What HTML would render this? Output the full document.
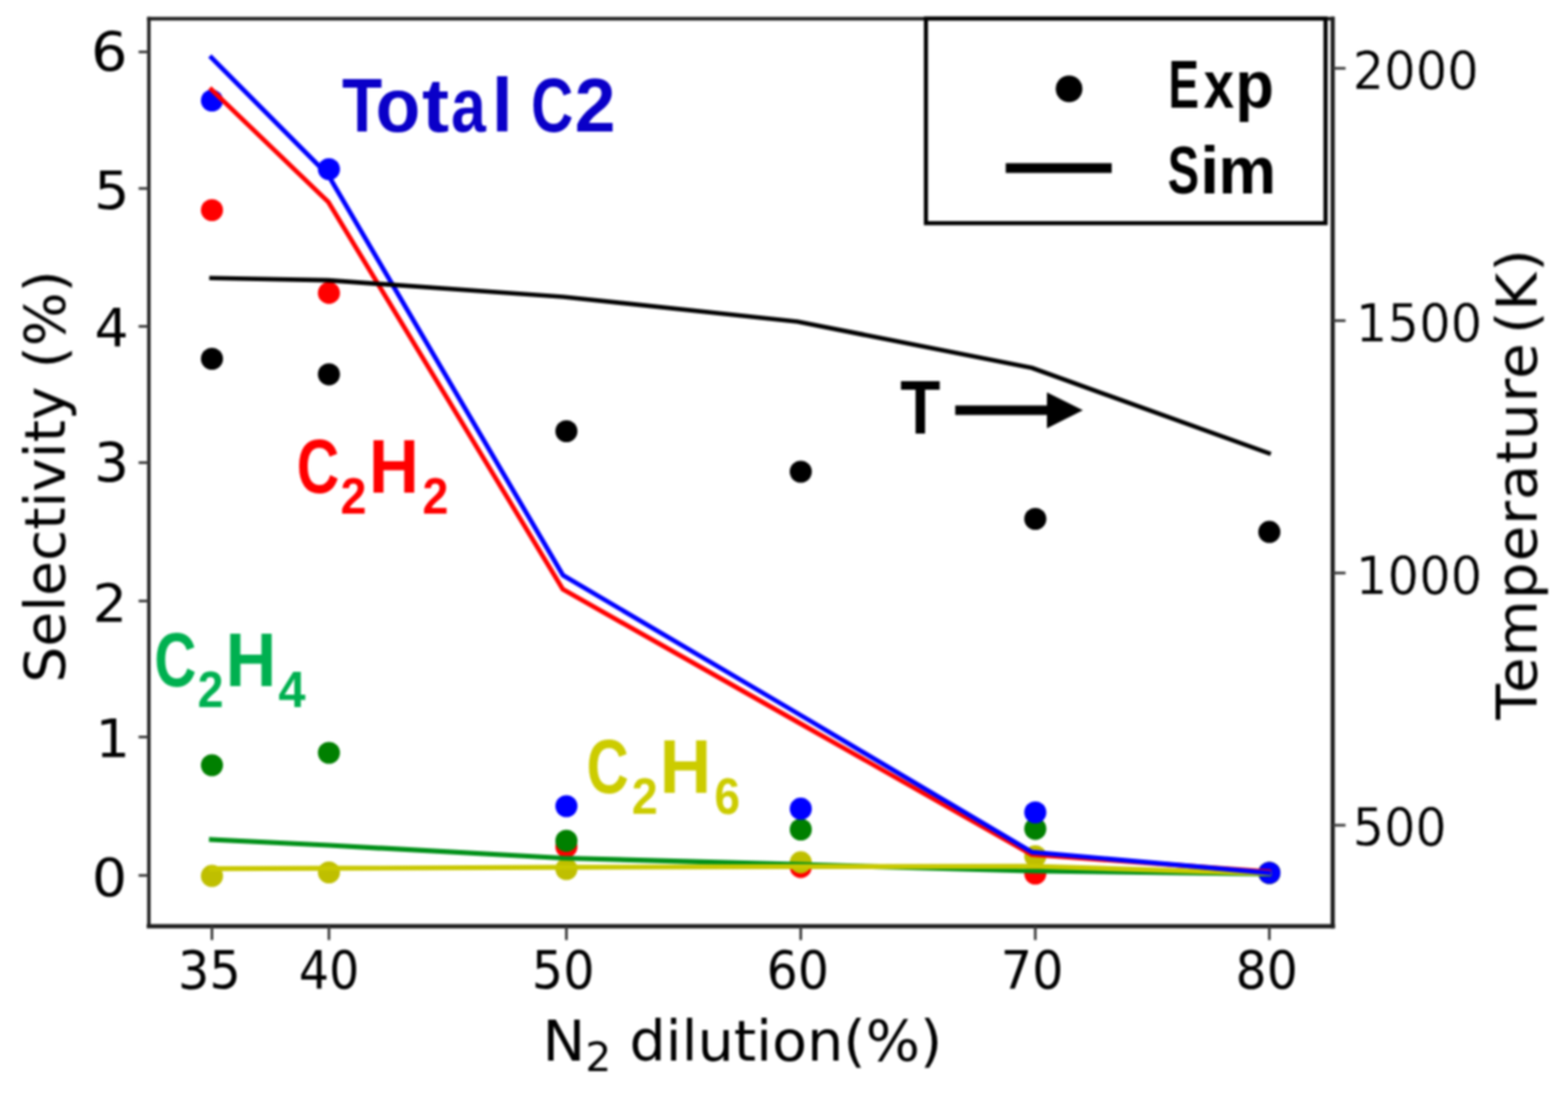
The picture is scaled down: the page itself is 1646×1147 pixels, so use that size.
<!DOCTYPE html>
<html lang="en">
<head>
<meta charset="utf-8">
<title>Selectivity vs N2 dilution</title>
<style>
html,body{margin:0;padding:0;background:#fff;}
body{width:1646px;height:1147px;overflow:hidden;}
svg{display:block;}
.mp{font-family:"DejaVu Sans","Liberation Sans",sans-serif;fill:#000;}
.tk{stroke:none;}
.er{stroke:#fff;stroke-width:0.5px;}
.lb{stroke:none;}
.cb{font-family:"Liberation Sans","DejaVu Sans",sans-serif;font-weight:bold;}
#all{filter:blur(0.8px);}
</style>
</head>
<body>
<svg width="1646" height="1147" viewBox="0 0 1646 1147">
<rect x="0" y="0" width="1646" height="1147" fill="#ffffff"/>
<g id="all">
<g id="plot">
<g id="points">
<circle cx="222.5" cy="220.5" r="11.6" fill="#ff0000"/><circle cx="345.3" cy="307.4" r="11.6" fill="#ff0000"/><circle cx="594.6" cy="888.5" r="11.6" fill="#ff0000"/><circle cx="840.6" cy="909.8" r="11.6" fill="#ff0000"/><circle cx="1086.8" cy="916.7" r="11.6" fill="#ff0000"/><circle cx="1332.5" cy="916.0" r="11.6" fill="#ff0000"/>
<circle cx="222.5" cy="919.2" r="11.6" fill="#bfbf00"/><circle cx="345.3" cy="915.5" r="11.6" fill="#bfbf00"/><circle cx="594.6" cy="912.0" r="11.6" fill="#bfbf00"/><circle cx="840.6" cy="904.9" r="11.6" fill="#bfbf00"/><circle cx="1086.8" cy="898.5" r="11.6" fill="#bfbf00"/><circle cx="1332.5" cy="916.0" r="11.6" fill="#bfbf00"/>
<circle cx="222.5" cy="803.0" r="11.6" fill="#008000"/><circle cx="345.3" cy="790.0" r="11.6" fill="#008000"/><circle cx="594.6" cy="882.3" r="11.6" fill="#008000"/><circle cx="840.6" cy="870.5" r="11.6" fill="#008000"/><circle cx="1086.8" cy="869.8" r="11.6" fill="#008000"/><circle cx="1332.5" cy="916.0" r="11.6" fill="#008000"/>
<circle cx="222.5" cy="105.5" r="11.6" fill="#0000ff"/><circle cx="345.3" cy="177.5" r="11.6" fill="#0000ff"/><circle cx="594.6" cy="846.0" r="11.6" fill="#0000ff"/><circle cx="840.6" cy="848.7" r="11.6" fill="#0000ff"/><circle cx="1086.8" cy="852.5" r="11.6" fill="#0000ff"/><circle cx="1332.5" cy="916.0" r="11.6" fill="#0000ff"/>
<circle cx="222.5" cy="376.5" r="11.6" fill="#000000"/><circle cx="345.3" cy="392.8" r="11.6" fill="#000000"/><circle cx="594.6" cy="452.5" r="11.6" fill="#000000"/><circle cx="840.6" cy="495.0" r="11.6" fill="#000000"/><circle cx="1086.8" cy="544.5" r="11.6" fill="#000000"/><circle cx="1332.5" cy="558.2" r="11.6" fill="#000000"/>
</g>
<g id="lines">
<polyline points="222.0,881.0 344.7,887.0 590.9,900.5 837.0,907.2 1083.1,914.0 1331.8,917.0" fill="none" stroke="#009018" stroke-width="5.2" stroke-linejoin="round" stroke-linecap="square"/>
<polyline points="222.0,911.6 344.7,911.2 590.9,910.2 837.0,909.4 1083.1,909.0 1331.8,916.6" fill="none" stroke="#c8c800" stroke-width="5.2" stroke-linejoin="round" stroke-linecap="square"/>
<polyline points="222.0,94.0 344.7,212.0 590.9,618.4 837.0,757.5 1083.1,896.8 1331.8,914.8" fill="none" stroke="#ff0000" stroke-width="4.9" stroke-linejoin="round" stroke-linecap="square"/>
<polyline points="222.0,60.5 344.7,184.0 590.9,603.6 837.0,748.5 1083.1,894.2 1331.8,916.0" fill="none" stroke="#0000ff" stroke-width="4.9" stroke-linejoin="round" stroke-linecap="square"/>
<polyline points="222.0,291.8 344.7,294.2 590.9,311.5 837.0,337.5 1083.1,386.0 1331.8,475.6" fill="none" stroke="#000000" stroke-width="4.7" stroke-linejoin="round" stroke-linecap="square"/>
</g>
<g id="frame" stroke="#1e1e1e" stroke-linecap="square"><line x1="156.3" y1="19.6" x2="1399.0" y2="19.6" stroke-width="3.6"/><line x1="156.3" y1="19.6" x2="156.3" y2="972.0" stroke-width="3.6"/><line x1="1399.0" y1="19.6" x2="1399.0" y2="972.0" stroke-width="4.4"/><line x1="156.3" y1="972.0" x2="1399.0" y2="972.0" stroke-width="4.7"/></g>
<g id="ticks" stroke="#3a3a3a" stroke-width="2.8"><line x1="222.5" y1="972.0" x2="222.5" y2="986.5"/><line x1="345.3" y1="972.0" x2="345.3" y2="986.5"/><line x1="594.6" y1="972.0" x2="594.6" y2="986.5"/><line x1="840.6" y1="972.0" x2="840.6" y2="986.5"/><line x1="1086.8" y1="972.0" x2="1086.8" y2="986.5"/><line x1="1332.5" y1="972.0" x2="1332.5" y2="986.5"/><line x1="145.5" y1="54.5" x2="156.3" y2="54.5"/><line x1="145.5" y1="197.8" x2="156.3" y2="197.8"/><line x1="145.5" y1="342.5" x2="156.3" y2="342.5"/><line x1="145.5" y1="485.5" x2="156.3" y2="485.5"/><line x1="145.5" y1="630.7" x2="156.3" y2="630.7"/><line x1="145.5" y1="773.4" x2="156.3" y2="773.4"/><line x1="145.5" y1="918.7" x2="156.3" y2="918.7"/><line x1="1399.0" y1="71.7" x2="1412.5" y2="71.7"/><line x1="1399.0" y1="336.5" x2="1412.5" y2="336.5"/><line x1="1399.0" y1="601.3" x2="1412.5" y2="601.3"/><line x1="1399.0" y1="866.0" x2="1412.5" y2="866.0"/></g>
<g id="ticklabels">
<text class="mp tk" font-size="55.5" transform="translate(186.73,1037.20) scale(0.9386,1)">35</text><text class="mp tk" font-size="55.5" transform="translate(313.81,1037.20) scale(0.8978,1)">40</text><text class="mp tk" font-size="55.5" transform="translate(558.26,1037.20) scale(0.9331,1)">50</text><text class="mp tk" font-size="55.5" transform="translate(804.80,1037.20) scale(0.9264,1)">60</text><text class="mp tk" font-size="55.5" transform="translate(1050.46,1037.20) scale(0.9331,1)">70</text><text class="mp tk" font-size="55.5" transform="translate(1297.00,1037.20) scale(0.9264,1)">80</text>
<text class="mp tk" font-size="56" transform="translate(95.57,75.40) scale(1.0786,1)">6</text><text class="mp tk" font-size="56" transform="translate(98.82,218.70) scale(1.0448,1)">5</text><text class="mp tk" font-size="56" transform="translate(99.19,363.40) scale(1.0040,1)">4</text><text class="mp tk" font-size="56" transform="translate(98.68,506.40) scale(1.0305,1)">3</text><text class="mp tk" font-size="56" transform="translate(97.22,651.60) scale(1.0144,1)">2</text><text class="mp tk" font-size="56" transform="translate(100.23,794.30) scale(1.0174,1)">1</text><text class="mp tk" font-size="56" transform="translate(96.44,939.60) scale(1.0357,1)">0</text>
<text class="mp tk er" font-size="55.5" transform="translate(1419.96,92.90) scale(0.9375,1)">2000</text><text class="mp tk er" font-size="55.5" transform="translate(1423.37,358.40) scale(0.9389,1)">1500</text><text class="mp tk er" font-size="55.5" transform="translate(1423.37,622.80) scale(0.9389,1)">1000</text><text class="mp tk er" font-size="55.5" transform="translate(1420.07,887.20) scale(0.9296,1)">500</text></g>
<text class="mp lb" font-size="59.0" transform="translate(779.30,1113.00) scale(1.018,1)" text-anchor="middle">N<tspan font-size="42" dy="10.5">2</tspan><tspan dy="-10.5"> dilution(%)</tspan></text>
<text class="mp lb" font-size="59.0" transform="translate(68.00,500.00) rotate(-90) scale(1.01,1)" text-anchor="middle">Selectivity (%)</text>
<text class="mp lb" font-size="59.0" transform="translate(1613.00,507.90) rotate(-90) scale(1.035,1)" text-anchor="middle" letter-spacing="0.8" word-spacing="-11.2">Temperature (K)</text>
</g>
<g id="legend"><rect x="972" y="19.5" width="419.5" height="214.7" fill="#ffffff" stroke="#000" stroke-width="4.3"/><circle cx="1122.25" cy="93.25" r="14" fill="#000"/><line x1="1055.75" y1="176.4" x2="1167" y2="176.4" stroke="#000" stroke-width="10.1"/>
<text id="lg-exp" class="cb" font-size="71" fill="#000" y="113.3"><tspan x="1226.5" textLength="32.2" lengthAdjust="spacingAndGlyphs">E</tspan><tspan x="1263.4" textLength="32.0" lengthAdjust="spacingAndGlyphs">x</tspan><tspan x="1296.8" textLength="40.6" lengthAdjust="spacingAndGlyphs">p</tspan></text>
<text id="lg-sim" class="cb" font-size="71" fill="#000" y="203.1"><tspan x="1225.7" textLength="33.0" lengthAdjust="spacingAndGlyphs">S</tspan><tspan x="1259.7" textLength="20.2" lengthAdjust="spacingAndGlyphs">i</tspan><tspan x="1278.9" textLength="60.6" lengthAdjust="spacingAndGlyphs">m</tspan></text>
</g>
<g id="annotations">
<text id="an-total" class="cb" font-size="80" fill="#0a00c8" y="138.3"><tspan x="359.0" textLength="42.2" lengthAdjust="spacingAndGlyphs">T</tspan><tspan x="394.3" textLength="47.0" lengthAdjust="spacingAndGlyphs">o</tspan><tspan x="443.0" textLength="28.5" lengthAdjust="spacingAndGlyphs">t</tspan><tspan x="473.6" textLength="36.5" lengthAdjust="spacingAndGlyphs">a</tspan><tspan x="516.2" textLength="22.0" lengthAdjust="spacingAndGlyphs">l</tspan><tspan x="537.0" textLength="19.0" lengthAdjust="spacingAndGlyphs"> </tspan><tspan x="557.5" textLength="44.3" lengthAdjust="spacingAndGlyphs">C</tspan><tspan x="603.2" textLength="42.9" lengthAdjust="spacingAndGlyphs">2</tspan></text>
<text id="an-c2h2" class="cb" font-size="80" fill="#ff0000" y="517.3"><tspan x="311.6" textLength="44.7" lengthAdjust="spacingAndGlyphs">C</tspan><tspan x="357.4" textLength="27.2" lengthAdjust="spacingAndGlyphs" dy="22.0" font-size="54.0">2</tspan><tspan x="387.2" textLength="52.5" lengthAdjust="spacingAndGlyphs" dy="-22.0">H</tspan><tspan x="443.6" textLength="27.2" lengthAdjust="spacingAndGlyphs" dy="22.0" font-size="54.0">2</tspan></text>
<text id="an-c2h4" class="cb" font-size="80" fill="#00b050" y="719.7"><tspan x="161.9" textLength="44.2" lengthAdjust="spacingAndGlyphs">C</tspan><tspan x="207.6" textLength="27.1" lengthAdjust="spacingAndGlyphs" dy="22.3" font-size="54.0">2</tspan><tspan x="236.8" textLength="53.4" lengthAdjust="spacingAndGlyphs" dy="-22.3">H</tspan><tspan x="292.2" textLength="28.5" lengthAdjust="spacingAndGlyphs" dy="22.3" font-size="54.0">4</tspan></text>
<text id="an-c2h6" class="cb" font-size="80" fill="#cccc00" y="831.8"><tspan x="615.8" textLength="44.3" lengthAdjust="spacingAndGlyphs">C</tspan><tspan x="663.3" textLength="27.2" lengthAdjust="spacingAndGlyphs" dy="22.3" font-size="54.0">2</tspan><tspan x="692.5" textLength="54.1" lengthAdjust="spacingAndGlyphs" dy="-22.3">H</tspan><tspan x="749.9" textLength="26.9" lengthAdjust="spacingAndGlyphs" dy="22.3" font-size="54.0">6</tspan></text>
<text id="an-t" class="cb" font-size="80" fill="#000" y="455.0"><tspan x="945.1" textLength="42.2" lengthAdjust="spacingAndGlyphs">T</tspan></text>
<line x1="1002.75" y1="430.4" x2="1102" y2="430.4" stroke="#000" stroke-width="10.0"/><polygon points="1099,411.8 1136.8,430.6 1099,449.6" fill="#000"/></g>
</g>
</svg>
</body>
</html>
